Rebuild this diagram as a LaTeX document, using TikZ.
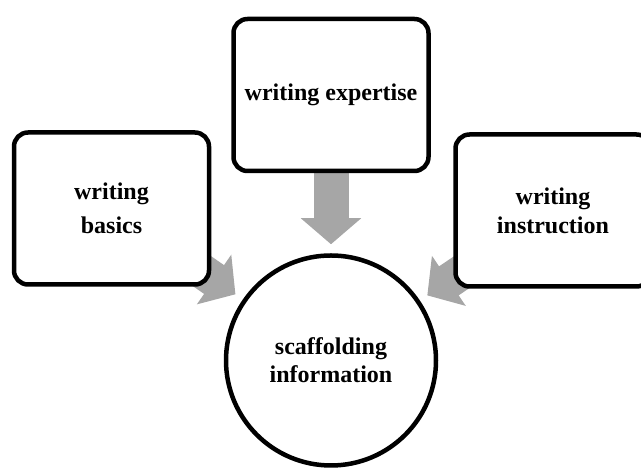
\documentclass[tikz,border=0pt]{standalone}
\usepackage{fontspec}
\setmainfont{Liberation Serif}
\usepackage{tikz}
\usetikzlibrary{positioning, arrows.meta, backgrounds}

\begin{document}
\begin{tikzpicture}[
    x=1pt, y=1pt,
    every node/.style={draw, line width=4.5pt, fill=white, align=center, inner sep=0pt, font=\fontsize{24}{28}\selectfont\bfseries},
    topic/.style={rounded corners=14pt, minimum width=195pt, minimum height=152pt},
    hub/.style={circle, minimum size=210pt},
    arr/.style={draw=gray!70, line width=35pt, -{Triangle[length=26pt, width=59pt]}, shorten >=9pt}
]
\useasboundingbox (0,0) rectangle (641,470);
\node (info) [hub] at (331,109.5) {scaffolding\\information};
\node (expertise) [topic, above=80pt of info] {writing expertise};
\node (basics) [topic] at (111.5,261.5) {writing\\[6pt]basics};
\node (instruction) [topic] at (553,259.5) {writing\\[1pt]instruction};

\begin{scope}[on background layer]
\draw[arr] (basics.center) -- (info);
\draw[arr] (expertise.center) -- (info);
\draw[arr] (instruction.center) -- (info);
\end{scope}
\end{tikzpicture}
\end{document}
